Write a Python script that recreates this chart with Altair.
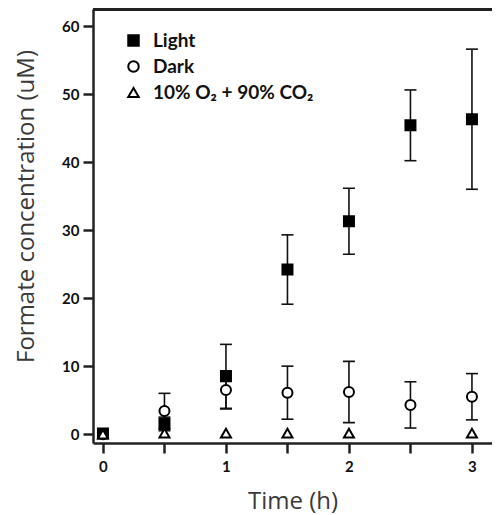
import altair as alt
import pandas as pd

# ---- data ----
times = [0, 0.5, 1, 1.5, 2, 2.5, 3]
light_mean = [0.1, 1.5, 8.5, 24.2, 31.3, 45.4, 46.3]
light_err = [0.4, 1.0, 4.7, 5.1, 4.85, 5.2, 10.3]
dark_mean = [0.0, 3.4, 6.5, 6.1, 6.2, 4.3, 5.5]
dark_err = [0.3, 2.6, 2.8, 3.9, 4.5, 3.4, 3.4]
co2_times = [0, 0.5, 1, 1.5, 2, 3]
co2_mean = [0.0, 0.15, 0.15, 0.15, 0.15, 0.15]

names = ["Light", "Dark", "10% O\u2082 + 90% CO\u2082"]
x_ticks = [0, 0.5, 1, 1.5, 2, 2.5, 3]
y_ticks = [0, 10, 20, 30, 40, 50, 60]

# ---- tables ----
pts = pd.concat([
    pd.DataFrame({"time": times, "value": dark_mean, "series": names[1]}),
    pd.DataFrame({"time": times, "value": light_mean, "series": names[0]}),
    pd.DataFrame({"time": co2_times, "value": co2_mean, "series": names[2]}),
], ignore_index=True)

err = pd.concat([
    pd.DataFrame({"time": times,
                  "lo": [m - e for m, e in zip(light_mean, light_err)],
                  "hi": [m + e for m, e in zip(light_mean, light_err)]}),
    pd.DataFrame({"time": times,
                  "lo": [m - e for m, e in zip(dark_mean, dark_err)],
                  "hi": [m + e for m, e in zip(dark_mean, dark_err)]}),
], ignore_index=True)
caps = pd.concat([
    pd.DataFrame({"time": err["time"], "v": err["lo"]}),
    pd.DataFrame({"time": err["time"], "v": err["hi"]}),
], ignore_index=True)

W, H = 399, 434
AX = "#222222"
TFONT = "Open Sans"

xscale = alt.Scale(domain=[-0.081, 3.163], nice=False, zero=False)
yscale = alt.Scale(domain=[-1.3, 62.5], nice=False, zero=False)

xaxis = alt.Axis(
    values=x_ticks, grid=False,
    labelExpr="datum.value % 1 == 0 ? format(datum.value, 'd') : ''",
    title="Time (h)", titleFont=TFONT, titleFontSize=24, titleFontWeight="normal",
    titleColor="#3a3a3a", titleY=65, titleBaseline="alphabetic",
    labelFontSize=15, labelFontWeight="bold", labelColor="#111111",
    labelPadding=6, tickSize=10, tickWidth=2.5, tickColor=AX,
    domainColor=AX, domainWidth=2.5,
)
yaxis = alt.Axis(
    values=y_ticks, grid=False,
    title="Formate concentration (uM)", titleFont=TFONT, titleFontSize=24,
    titleFontWeight="normal", titleColor="#3a3a3a",
    titleX=-67, titleY=197, titleAngle=270, titleBaseline="middle",
    titleAlign="center",
    labelFontSize=15, labelFontWeight="bold", labelColor="#111111",
    labelPadding=4, tickSize=10, tickWidth=2.5, tickColor=AX,
    domainColor=AX, domainWidth=2.5,
)

bars = alt.Chart(err).mark_rule(color="#111111", strokeWidth=1.6).encode(
    x=alt.X("time:Q", scale=xscale, axis=xaxis),
    y=alt.Y("lo:Q", scale=yscale, axis=yaxis),
    y2="hi:Q",
)
cap_marks = alt.Chart(caps).mark_tick(
    orient="horizontal", size=12, thickness=1.6, color="#111111", opacity=1
).encode(
    x=alt.X("time:Q", scale=xscale),
    y=alt.Y("v:Q", scale=yscale),
)

legend = alt.Legend(
    title=None, orient="none", legendX=31, legendY=22,
    labelFontSize=19, labelFontWeight="bold", labelColor="#111111",
    labelOffset=10, labelLimit=400, rowPadding=6, symbolSize=110,
    symbolStrokeWidth=2, padding=0, symbolOpacity=1,
)
points = alt.Chart(pts).mark_point(
    filled=False, strokeWidth=2, size=100, opacity=1, fillOpacity=1,
).encode(
    x=alt.X("time:Q", scale=xscale),
    y=alt.Y("value:Q", scale=yscale),
    shape=alt.Shape("series:N",
                    scale=alt.Scale(domain=names,
                                    range=["square", "circle", "triangle-up"]),
                    legend=legend),
    fill=alt.Fill("series:N",
                  scale=alt.Scale(domain=names, range=["black", "white", "white"]),
                  legend=legend),
    stroke=alt.Stroke("series:N",
                      scale=alt.Scale(domain=names, range=["black", "black", "black"]),
                      legend=legend),
)

top_line = alt.Chart(pts).mark_rule(color=AX, strokeWidth=2.5).encode(
    x=alt.value(0), x2=alt.value(W), y=alt.value(0)
)

chart = alt.layer(bars, cap_marks, points, top_line).properties(
    width=W, height=H,
    autosize=alt.AutoSizeParams(type="none"),
    padding={"left": 85, "top": 1, "right": 0, "bottom": 71},
).configure(font="Lato").configure_view(stroke=None)

chart.save("out.html", embed_options={"renderer": "svg", "actions": False})
